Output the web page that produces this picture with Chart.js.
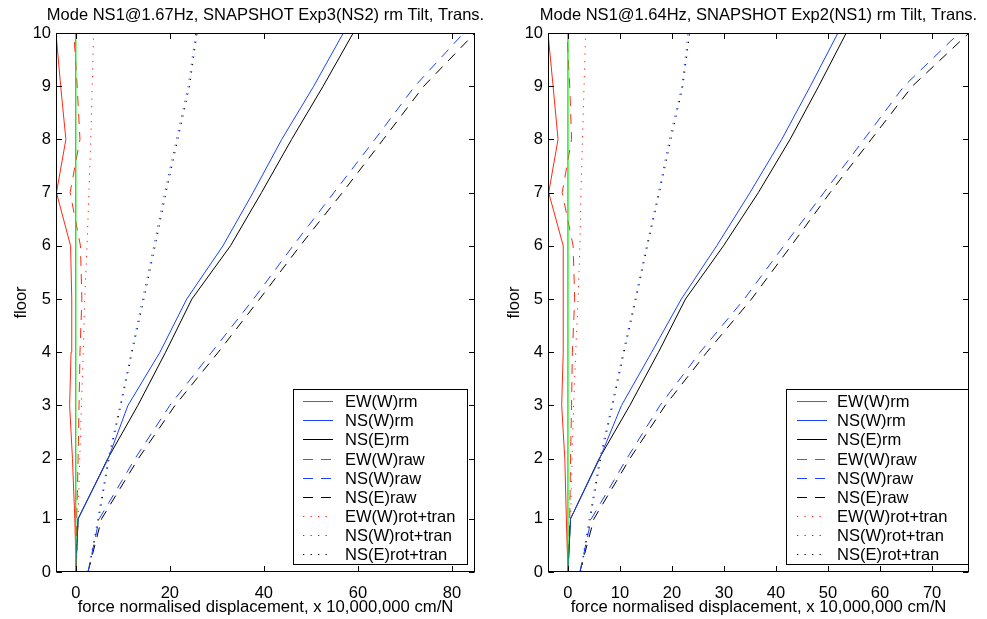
<!DOCTYPE html>
<html><head><meta charset="utf-8">
<script src="https://cdn.jsdelivr.net/npm/chart.js@4.4.1/dist/chart.umd.min.js"></script>
<style>
html,body{margin:0;padding:0;background:#fff;overflow:hidden;width:987px;height:619px;position:relative;}
#c1{position:absolute;left:0;top:0;}
#c2{position:absolute;left:493px;top:0;}
</style></head><body>
<canvas id="c1" width="529" height="619"></canvas>
<canvas id="c2" width="530" height="619"></canvas>
<script>
// ---------- data ----------
const floorLabels = ['0','1','2','3','4','5','6','7','8','9','10'];
// vertical position of each floor (first-to-second storey is taller)
const floorLevels = [0, 1, 2.13, 3.13, 4.13, 5.13, 6.13, 7.13, 8.13, 9.13, 10.13];
const seriesNames = ['EW(W)rm','NS(W)rm','NS(E)rm','EW(W)raw','NS(W)raw','NS(E)raw','EW(W)rot+tran','NS(W)rot+tran','NS(E)rot+tran'];

// Left panel: Mode NS1@1.67Hz, Exp3(NS2)
const exp3Title  = 'Mode NS1@1.67Hz, SNAPSHOT Exp3(NS2) rm Tilt, Trans.';
const exp3EWrm   = [0.1, -0.2, -0.7, -1.3, -1.0, -0.85, -1.1, -4.1, -2.1, -3.2, -4.2];
const exp3NSWrm  = [0, 0.5, 6.9, 11.1, 17.9, 23.6, 31.3, 37.7, 43.8, 50.6, 56.9];
const exp3NSErm  = [0, 0.5, 6.8, 13.2, 19.1, 24.7, 32.9, 39.5, 45.9, 52.6, 59.0];
const exp3EWraw  = [0.1, 0.2, 0.5, 0.7, 0.9, 1.3, 1.0, -1.2, 0.9, 0.3, -0.4];
const exp3NSWraw = [2.6, 5.0, 12.6, 20.0, 28.9, 37.8, 46.2, 54.9, 63.6, 72.1, 82.5];
const exp3NSEraw = [2.6, 5.5, 13.3, 21.1, 30.3, 39.1, 47.7, 56.7, 65.4, 74.0, 84.9];
const exp3EWrt   = [0.1, 0.5, 0.85, 1.2, 1.6, 1.9, 2.4, 2.8, 3.2, 3.5, 3.8];
const exp3NSWrt  = [2.6, 4.7, 6.9, 9.4, 11.8, 14.2, 16.6, 18.9, 21.4, 23.9, 25.5];
const exp3NSErt  = [2.7, 4.9, 7.1, 9.6, 12.0, 14.5, 16.9, 19.2, 21.7, 24.2, 25.8];
const exp3XRange = [-4.2, 84.9];
const exp3XStep = 20;

// Right panel: Mode NS1@1.64Hz, Exp2(NS1)
const exp2Title  = 'Mode NS1@1.64Hz, SNAPSHOT Exp2(NS1) rm Tilt, Trans.';
const exp2EWrm   = [0, -0.3, -0.6, -1.2, -0.9, -0.9, -0.9, -3.7, -1.9, -2.85, -3.83];
const exp2NSWrm  = [0, 0.5, 6.1, 10.3, 16.1, 21.8, 28.6, 35.0, 41.1, 46.6, 51.9];
const exp2NSErm  = [0, 0.5, 6.0, 11.9, 17.4, 22.6, 29.9, 36.6, 42.7, 48.2, 53.5];
const exp2EWraw  = [0, 0.35, 0.5, 0.7, 0.85, 1.3, 1.0, -1.1, 0.7, 0.35, -0.2];
const exp2NSWraw = [2.3, 4.5, 11.3, 17.7, 25.4, 33.9, 41.5, 49.2, 56.9, 64.6, 75.2];
const exp2NSEraw = [2.3, 5.0, 11.9, 18.7, 26.7, 35.3, 42.9, 50.4, 58.3, 66.2, 77.1];
const exp2EWrt   = [0, 0.5, 0.8, 1.1, 1.5, 1.95, 2.3, 2.5, 2.8, 3.1, 3.4];
const exp2NSWrt  = [2.4, 4.1, 6.1, 8.4, 10.6, 12.9, 15.1, 17.4, 19.5, 21.9, 23.1];
const exp2NSErt  = [2.5, 4.3, 6.3, 8.6, 10.8, 13.1, 15.3, 17.6, 19.8, 22.1, 23.4];
const exp2XRange = [-3.83, 77.1];
const exp2XStep = 10;

// zero reference line (green)
const zeroLine = [0, 0];

// ---------- styles ----------
const FONT = '"Liberation Sans", Arial, Helvetica, sans-serif';
const FS = 16.5, FS_TITLE = 16.5, FS_XLABEL = 16.7;
Chart.defaults.font.family = FONT;
Chart.defaults.font.size = FS;
Chart.defaults.color = '#000';

const RED = 'rgb(255,40,20)', BLUE = 'rgb(25,65,255)', BLACK = '#000', GREEN = 'rgb(0,235,0)';
const DASH = [10, 8], DOT = [1.3, 6.2];
const styles = [
  {c: RED, d: []}, {c: BLUE, d: []}, {c: BLACK, d: []},
  {c: RED, d: DASH}, {c: BLUE, d: DASH}, {c: BLACK, d: DASH},
  {c: RED, d: DOT}, {c: BLUE, d: DOT}, {c: BLACK, d: DOT}
];

function buildDatasets(series) {
  const ds = series.map((vals, i) => ({
    label: seriesNames[i],
    data: vals.map((v, k) => ({x: v, y: floorLevels[k]})),
    borderColor: styles[i].c,
    borderDash: styles[i].d,
    borderWidth: 1,
    pointRadius: 0,
    fill: false,
    tension: 0,
    order: i + 1
  }));
  ds.push({
    label: '_zero',
    data: [{x: zeroLine[0], y: floorLevels[0]}, {x: zeroLine[1], y: floorLevels[floorLevels.length - 1]}],
    borderColor: GREEN, borderWidth: 1.3, pointRadius: 0, fill: false, order: 0
  });
  return ds;
}

const matlabFrame = {
  id: 'matlabFrame',
  afterDatasetsDraw(chart, args, opts) {
    const {ctx, chartArea: a} = chart;
    const x = chart.scales.x, y = chart.scales.y;
    ctx.save();
    ctx.strokeStyle = '#000';
    ctx.lineWidth = 1;
    ctx.setLineDash([]);
    const L = Math.round(a.left) + 0.5, R = Math.round(a.right) - 0.5;
    const T = Math.round(a.top) + 0.5, B = Math.round(a.bottom) - 0.5;
    const tl = 5.5;
    ctx.beginPath();
    x.ticks.forEach(t => {
      const px = Math.round(x.getPixelForValue(t.value)) + 0.5;
      ctx.moveTo(px, B); ctx.lineTo(px, B - tl);
      ctx.moveTo(px, T); ctx.lineTo(px, T + tl);
    });
    y.ticks.forEach(t => {
      const py = Math.round(y.getPixelForValue(t.value)) + 0.5;
      ctx.moveTo(L, py); ctx.lineTo(L + tl, py);
      ctx.moveTo(R, py); ctx.lineTo(R - tl, py);
    });
    ctx.stroke();
    ctx.strokeRect(L, T, R - L, B - T);

    // title, centred over the plot box (may be wider than the box, as in MATLAB)
    if (opts.title) {
      ctx.fillStyle = '#000';
      ctx.font = FS_TITLE + 'px ' + FONT;
      ctx.textAlign = 'center';
      ctx.textBaseline = 'alphabetic';
      ctx.fillText(opts.title, (a.left + a.right) / 2, opts.titleBaseline);
    }

    // legend box (MATLAB style, south-east)
    const lg = opts.legend;
    if (lg) {
      ctx.fillStyle = '#fff';
      ctx.fillRect(lg.left, lg.top, lg.width, lg.height);
      ctx.strokeStyle = '#000';
      ctx.strokeRect(Math.round(lg.left) + 0.5, Math.round(lg.top) + 0.5, Math.round(lg.width), Math.round(lg.height));
      ctx.font = FS + 'px ' + FONT;
      ctx.textBaseline = 'middle';
      ctx.textAlign = 'left';
      chart.data.datasets.filter(d => !d.label.startsWith('_')).forEach((d, i) => {
        const yy = Math.round(lg.rowTop + i * lg.rowStep) + 0.5;
        ctx.strokeStyle = d.borderColor;
        ctx.lineWidth = 1;
        ctx.setLineDash(d.borderDash || []);
        ctx.beginPath();
        ctx.moveTo(lg.left + lg.s0, yy); ctx.lineTo(lg.left + lg.s1, yy);
        ctx.stroke();
        ctx.setLineDash([]);
        ctx.fillStyle = '#000';
        ctx.fillText(d.label, lg.left + lg.tx, yy + 0.5);
      });
    }
    ctx.restore();
  }
};

function makeChart(id, title, series, xr, step, yAxisW, padRight, legend) {
  return new Chart(document.getElementById(id), {
    type: 'line',
    data: {datasets: buildDatasets(series)},
    plugins: [matlabFrame],
    options: {
      responsive: false,
      animation: false,
      devicePixelRatio: 1,
      layout: {padding: {left: 0, right: padRight, top: 33, bottom: 0}},
      plugins: {
        legend: {display: false},
        tooltip: {enabled: false},
        title: {display: false},
        matlabFrame: {legend: legend, title: title, titleBaseline: 19.5}
      },
      scales: {
        x: {
          type: 'linear', min: xr[0], max: xr[1],
          grid: {display: false, drawTicks: false},
          border: {display: false},
          ticks: {stepSize: step, includeBounds: false, padding: 12, color: '#000',
                  font: {family: FONT, size: FS}, maxRotation: 0},
          title: {display: true, text: 'force normalised displacement, x 10,000,000 cm/N',
                  color: '#000', font: {family: FONT, size: FS_XLABEL}, padding: {top: 0, bottom: 2}},
          afterFit(s) { s.height = 47; }
        },
        y: {
          type: 'linear', min: floorLevels[0], max: floorLevels[floorLevels.length - 1],
          grid: {display: false, drawTicks: false},
          border: {display: false},
          afterBuildTicks(s) { s.ticks = floorLevels.map(v => ({value: v})); },
          ticks: {padding: 5, color: '#000', font: {family: FONT, size: FS},
                  callback: (v, i) => floorLabels[i]},
          title: {display: true, text: 'floor', color: '#000', font: {family: FONT, size: FS},
                  padding: {top: 12, bottom: 0}},
          afterFit(s) { s.width = yAxisW; }
        }
      }
    }
  });
}

makeChart('c1', exp3Title,
  [exp3EWrm, exp3NSWrm, exp3NSErm, exp3EWraw, exp3NSWraw, exp3NSEraw, exp3EWrt, exp3NSWrt, exp3NSErt],
  exp3XRange, exp3XStep, 56, 54,
  {left: 293, top: 389, width: 174, height: 175, rowTop: 401, rowStep: 19.17, s0: 10, s1: 40, tx: 52});

makeChart('c2', exp2Title,
  [exp2EWrm, exp2NSWrm, exp2NSErm, exp2EWraw, exp2NSWraw, exp2NSEraw, exp2EWrt, exp2NSWrt, exp2NSErt],
  exp2XRange, exp2XStep, 55, 54,
  {left: 293, top: 389, width: 182, height: 175, rowTop: 401, rowStep: 19.17, s0: 11, s1: 41, tx: 51});
</script>
</body></html>
